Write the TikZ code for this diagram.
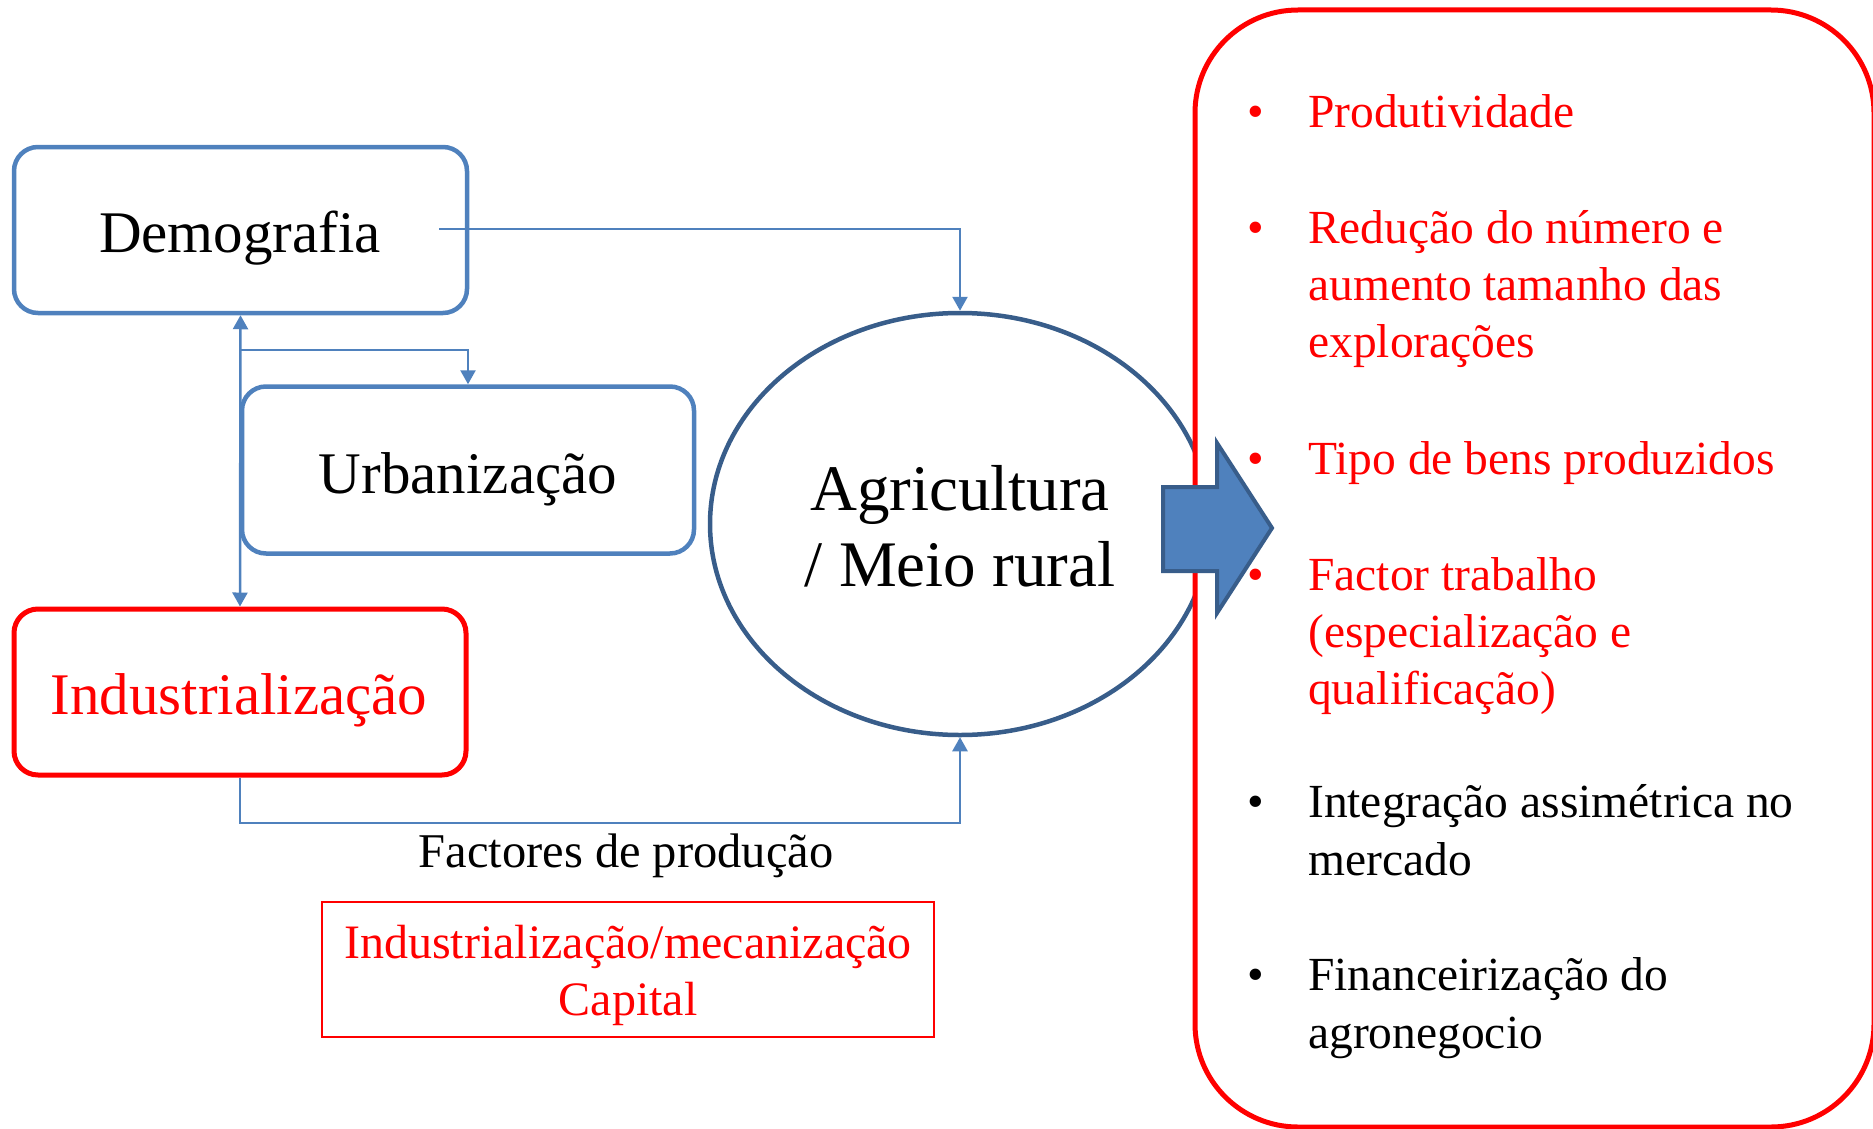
\documentclass[tikz,border=0pt]{standalone}
\usepackage{fontspec}
\setmainfont{Liberation Serif}
\usetikzlibrary{arrows.meta,shapes.geometric}
\definecolor{boxblue}{HTML}{4F81BD}
\definecolor{darkblue}{HTML}{385D8A}
\definecolor{pptred}{HTML}{FF0000}
\newcommand{\fsz}[2]{\fontsize{#1pt}{#2pt}\selectfont}
\begin{document}
\begin{tikzpicture}[x=1pt,y=-1pt,
  bluebox/.style={draw=boxblue, line width=4.5pt, rounded corners=24pt, inner sep=0pt, fill=white},
  redbox/.style={draw=pptred, line width=5pt, rounded corners=24pt, inner sep=0pt, fill=white},
  lbl/.style={anchor=base, inner sep=0pt, outer sep=0pt},
  conn/.style={draw=boxblue, line width=2.5pt, -{Triangle[width=15pt,length=14pt]}},
  biconn/.style={draw=boxblue, line width=2.5pt, {Triangle[width=15pt,length=14pt]}-{Triangle[width=15pt,length=14pt]}},
  item/.style={anchor=base west, inner sep=0pt, font=\fsz{47.5}{58}},
  bullet/.style={anchor=base, inner sep=0pt, font=\fsz{47.5}{58}}
]
\useasboundingbox (0,0) rectangle (1873,1129);

% left boxes
\node[bluebox, minimum width=453pt, minimum height=166pt] (demo) at (240.5,230) {};
\node[bluebox, minimum width=452pt, minimum height=167pt] (urb) at (468,470) {};
\node[redbox, minimum width=452pt, minimum height=166pt] (ind) at (240,692) {};
\node[lbl, font=\fsz{59}{70}] (demot) at (240,252) {Demografia};
\node[lbl, font=\fsz{59}{70}] (urbt) at (468,493) {Urbanização};
\node[lbl, font=\fsz{59}{70}, text=pptred] (indt) at (239,714) {Industrialização};

% central ellipse
\node[draw=darkblue, line width=4.5pt, ellipse, minimum width=500pt, minimum height=422pt, inner sep=0pt] (agri) at (960,524) {};
\node[lbl, font=\fsz{65}{76}] (agrit1) at (960,510) {Agricultura};
\node[lbl, font=\fsz{65}{76}] (agrit2) at (960,586) {/ Meio rural};

% connectors
\coordinate (dstart) at (439,229);
\draw[conn] (dstart) -| (agri.north);
\draw[biconn] (demo.south) -- (ind.north);
\coordinate (branch) at (240.5,350);
\draw[conn] (branch) -| (urb.north);
\coordinate (fbot) at (960,823);
\draw[conn] (ind.south) |- (fbot) -- (agri.south);

% factors
\node[lbl, font=\fsz{48.5}{56}] (fact) at (626,867) {Factores de produção};
\node[draw=pptred, line width=2pt, minimum width=612pt, minimum height=135pt, inner sep=0pt] (capbox) at (628,969.5) {};
\node[lbl, font=\fsz{48}{57}, text=pptred] (capt1) at (628,958) {Industrialização/mecanização};
\node[lbl, font=\fsz{48}{57}, text=pptred] (capt2) at (628,1015) {Capital};

% right box
\node[redbox, minimum width=679pt, minimum height=1117pt, rounded corners=103pt] (res) at (1534.5,568.5) {};

% block arrow
\draw[fill=boxblue, draw=darkblue, line width=4pt, line join=miter]
  (1163,487) -- (1217,487) -- (1217,443) -- (1272,528) -- (1217,613) -- (1217,571) -- (1163,571) -- cycle;

% bullet list
\node[bullet, text=pptred] (b1) at (1256,128) {•};
\node[item, text=pptred] (t1) at (1308,128) {Produtividade};
\node[bullet, text=pptred] (b2) at (1256,243) {•};
\node[item, text=pptred] (t2a) at (1308,243) {Redução do número e};
\node[item, text=pptred] (t2b) at (1308,300) {aumento tamanho das};
\node[item, text=pptred] (t2c) at (1308,357) {explorações};
\node[bullet, text=pptred] (b3) at (1256,474) {•};
\node[item, text=pptred] (t3) at (1308,474) {Tipo de bens produzidos};
\node[bullet, text=pptred] (b4) at (1256,590) {•};
\node[item, text=pptred] (t4a) at (1308,590) {Factor trabalho};
\node[item, text=pptred] (t4b) at (1308,647) {(especialização e};
\node[item, text=pptred] (t4c) at (1308,704) {qualificação)};
\node[bullet] (b5) at (1256,817) {•};
\node[item] (t5a) at (1308,817) {Integração assimétrica no};
\node[item] (t5b) at (1308,875) {mercado};
\node[bullet] (b6) at (1256,990) {•};
\node[item] (t6a) at (1308,990) {Financeirização do};
\node[item] (t6b) at (1308,1048) {agronegocio};
\end{tikzpicture}
\end{document}
